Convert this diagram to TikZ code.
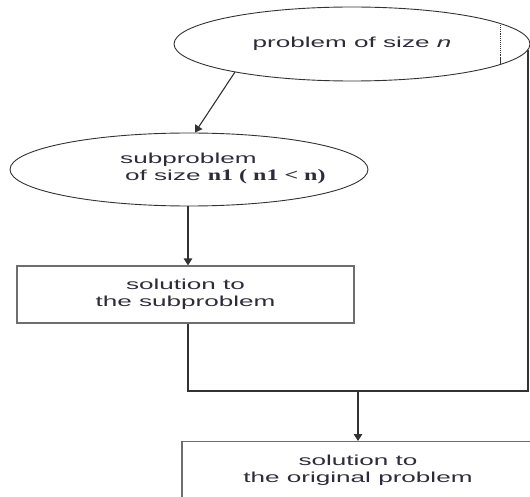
\documentclass[tikz,border=0pt]{standalone}
\usepackage{fontspec}
\setmainfont{Liberation Sans}[FakeStretch=1.8]
\newfontfamily\sizefont{Liberation Serif}[FakeStretch=1.5]
\usetikzlibrary{arrows.meta,calc,shapes.geometric}

\definecolor{ink}{RGB}{45,45,58}
\definecolor{linec}{RGB}{50,50,50}
\definecolor{boxc}{RGB}{110,110,110}

\begin{document}
\begin{tikzpicture}[x=1pt,y=-1pt,
  every node/.style={font=\fontsize{14.5}{17.5}\selectfont, text=ink},
  oval/.style={ellipse, draw=linec, line width=0.9pt, inner sep=0pt},
  stepbox/.style={rectangle, draw=boxc, line width=1.1pt, align=center},
  txt/.style={align=center, inner sep=0pt},
  flow/.style={draw=linec, line width=1.1pt},
  arrow/.style={flow, -{Triangle[length=7pt,width=8.5pt]}}]

\useasboundingbox (0,0) rectangle (530,497);
\clip (0,0) rectangle (530,497);

% problem and subproblem
\node[oval, minimum width=356pt, minimum height=74pt] (big) at (352,44)
  {problem of size \textit{n}};
\node[oval, minimum width=358pt, minimum height=73pt] (sub) at (189,169.5) {};
\node[txt, align=left, anchor=west] (subtext) at (120,168.5)
  {subproblem\\\hspace*{5pt}of size {\sizefont\fontsize{16}{17.5}\selectfont\bfseries n1 ( n1 < n)}};

% solutions
\node[stepbox, minimum width=337pt, minimum height=57pt] (solsub) at (185.5,294.5)
  {solution to\\the subproblem};
\node[stepbox, minimum width=352pt, minimum height=80pt, anchor=north] (orig) at (358,441) {};
\node[txt] (origtext) at ($(orig.north)+(0,29)$) {solution to\\the original problem};

% divider inside the top ellipse
\draw[flow, densely dotted, line width=0.8pt] ($(big.center)+(148,-21)$) -- ($(big.center)+(148,13)$);
\draw[flow, line width=0.8pt] ($(big.center)+(148,13)$) -- ($(big.center)+(148,21)$);

% connectors
\coordinate (jl) at (188,391);
\coordinate (jr) at (528,391);
\coordinate (bigfoot) at ($(big.center)+(-117,28)$);
\draw[arrow] (bigfoot) -- ($(sub.north)+(6,0)$);
\draw[arrow] (sub.south -| jl) -- (solsub.north -| jl);
\draw[flow] (solsub.south -| jl) -- (jl) -- (jr) -- ($(big.center)+(176,6)$);
\draw[arrow] (orig.north |- jr) -- (orig.north);
\end{tikzpicture}
\end{document}
